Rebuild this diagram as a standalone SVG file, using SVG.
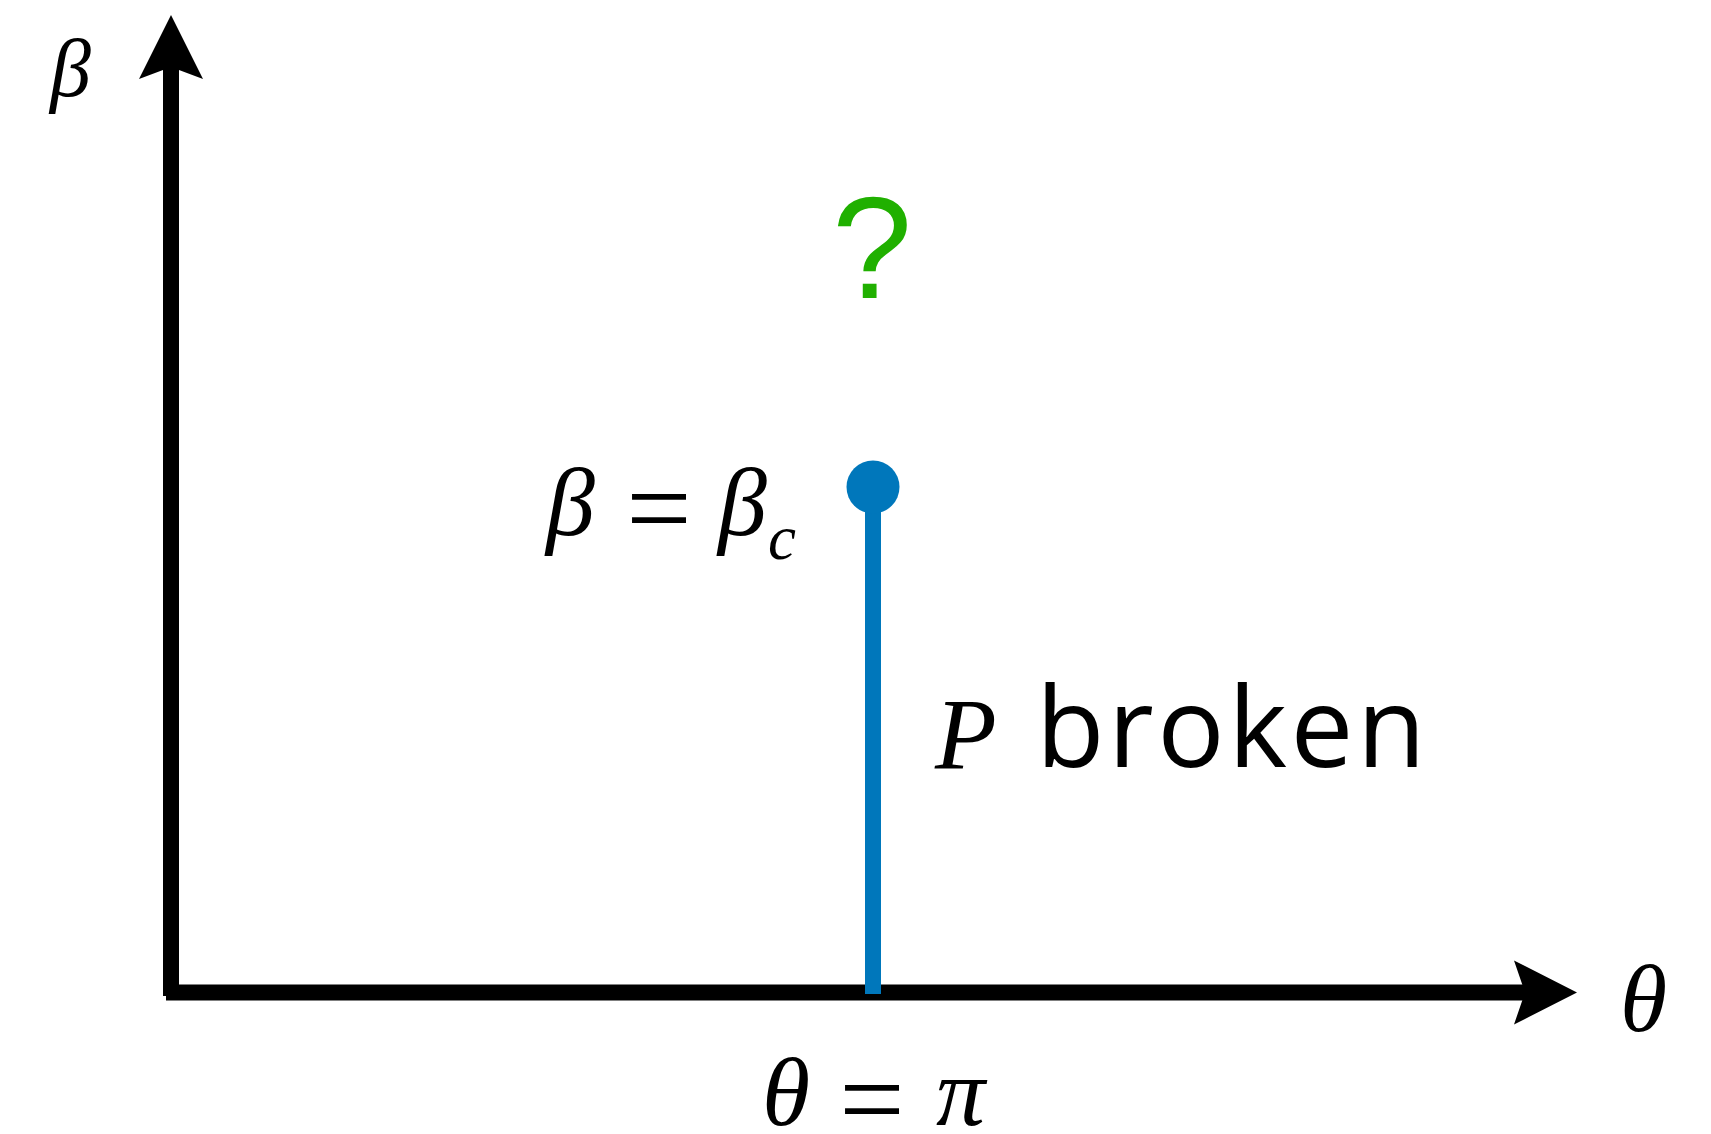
<svg xmlns="http://www.w3.org/2000/svg" width="1711" height="1134" viewBox="0 0 1711 1134">
<style>
.m{font-family:"Liberation Serif","Times New Roman",serif;font-style:italic;fill:#000}
.r{font-family:"Liberation Serif","Times New Roman",serif;fill:#000}
.s{font-family:"Open Sans","DejaVu Sans",sans-serif;fill:#000}
.ax{stroke:#000;stroke-width:16;fill:none}
</style>
<rect width="1711" height="1134" fill="#fff"/>
<g id="connectors">
<line class="ax" x1="171" y1="996" x2="171" y2="66"/>
<polygon points="171,15 203,79 171,67 139,79" fill="#000"/>
<line class="ax" x1="166" y1="992.5" x2="1526" y2="992.5"/>
<polygon points="1577,992.5 1514,1024.5 1525,992.5 1514,960.5" fill="#000"/>
</g>
<g id="critical-line">
<line x1="873" y1="487" x2="873" y2="994" stroke="#0077bb" stroke-width="16"/>
<circle cx="873" cy="487" r="26.5" fill="#0077bb"/>
</g>
<g id="question">
<text x="872" y="298" text-anchor="middle" font-family="Liberation Sans, Arial, sans-serif" font-size="144" fill="#20b000">?</text>
</g>
<g id="beta-axis-label"><text class="m" x="50" y="96" font-size="82">β</text></g>
<g id="theta-axis-label"><text class="m" x="1620" y="1031" font-size="96">θ</text></g>
<g id="beta-c-label">
<text class="m" x="546" y="535" font-size="98">β</text>
<text class="r" x="659" y="547" font-size="116" text-anchor="middle">=</text>
<text class="m" x="718" y="535" font-size="98">β</text>
<text class="m" x="768" y="559" font-size="63">c</text>
</g>
<g id="p-broken-label">
<text class="m" x="935" y="769" font-size="101">P</text>
<text class="s" x="1036" y="767" font-size="112" letter-spacing="3.5">broken</text>
</g>
<g id="theta-pi-label">
<text class="m" x="762" y="1125" font-size="98">θ</text>
<text class="r" x="872" y="1138" font-size="116" text-anchor="middle">=</text>
<text class="m" x="936" y="1125" font-size="98">π</text>
</g>
</svg>
